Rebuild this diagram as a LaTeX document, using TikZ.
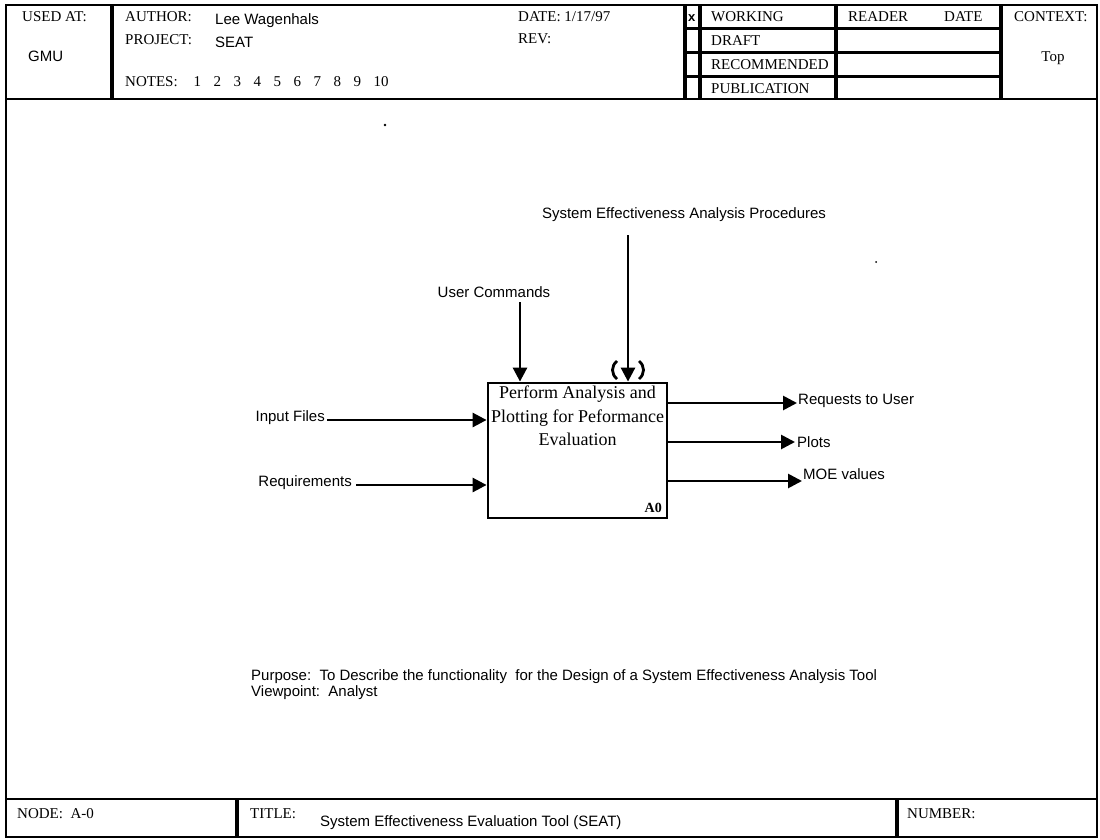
\documentclass[tikz,border=0pt]{standalone}
\usepackage{fontspec}
\setmainfont{Liberation Serif}
\newfontfamily\arial{Liberation Sans}
\usetikzlibrary{arrows.meta}
\begin{document}
\begin{tikzpicture}[x=1pt,y=-1pt,
  frame/.style={line width=2pt},
  divider/.style={line width=3.5pt},
  rowline/.style={line width=3pt},
  hdr/.style={font=\fontsize{15}{18}\selectfont, inner sep=0pt, anchor=base west},
  lab/.style={font=\arial\fontsize{15}{18}\selectfont, inner sep=0pt},
  arr/.style={line width=2.7pt, -{Triangle[length=14pt,width=14pt]}},
  funcbox/.style={draw, line width=2.8pt, minimum width=179pt, minimum height=135pt, inner sep=0pt}
]
\useasboundingbox (0,0) rectangle (1100,840);
% outer frame
\draw[frame] (6,5) rectangle (1097,837);
\draw[line width=2.6pt] (6,99) -- (1097,99);
\draw[frame] (6,799) -- (1097,799);
% header dividers
\draw[divider] (112,5) -- (112,99);
\draw[divider] (685,5) -- (685,99);
\draw[divider] (700,5) -- (700,99);
\draw[divider] (836,5) -- (836,99);
\draw[divider] (1001,5) -- (1001,99);
\foreach \yy in {29,53,77} \draw[rowline] (685,\yy) -- (1001,\yy);
% footer dividers
\draw[divider] (237,799) -- (237,837);
\draw[divider] (897,799) -- (897,837);
% header texts
\node[hdr] (usedat) at (22,22) {USED AT:};
\node[lab, anchor=base west] (gmu) at (28,62) {GMU};
\node[hdr] (author) at (125,22) {AUTHOR:};
\node[lab, anchor=base west] (authorv) at (215,25) {Lee Wagenhals};
\node[hdr] (project) at (125,45) {PROJECT:};
\node[lab, anchor=base west] (projectv) at (215,48) {SEAT};
\node[hdr] (notes) at (125,87) {NOTES:\hspace{16pt}1\hspace{12.5pt}2\hspace{12.5pt}3\hspace{12.5pt}4\hspace{12.5pt}5\hspace{12.5pt}6\hspace{12.5pt}7\hspace{12.5pt}8\hspace{12.5pt}9\hspace{12.5pt}10};
\node[hdr] (date) at (518,22) {DATE:\ 1/17/97};
\node[hdr] (rev) at (518,44) {REV:};
\node[lab, anchor=base west, font=\arial\bfseries\fontsize{13}{15}\selectfont] (chk) at (688,22) {x};
\node[hdr] (working) at (711,22) {WORKING};
\node[hdr] (draft) at (711,46) {DRAFT};
\node[hdr] (recommended) at (711,70) {RECOMMENDED};
\node[hdr] (publication) at (711,94) {PUBLICATION};
\node[hdr] (reader) at (848,22) {READER};
\node[hdr] (rdate) at (944,22) {DATE};
\node[hdr] (context) at (1014,22) {CONTEXT:};
\node[hdr, anchor=base] (top) at (1053,62) {Top};
% footer texts
\node[hdr] (node) at (17,818) {NODE:\ \ A-0};
\node[hdr] (title) at (250,818) {TITLE:};
\node[lab, anchor=base west] (titlev) at (320,826) {System Effectiveness Evaluation Tool (SEAT)};
\node[hdr] (number) at (907,818) {NUMBER:};
% scan dots
\fill (385,125) circle (1.4pt);
\fill (876,262) circle (1pt);
% function box
\node[funcbox] (box) at (577.5,450.5) {};
\node[font=\fontsize{18}{23.5}\selectfont, align=center, anchor=north, inner sep=0pt] (boxtext) at (577.5,386) {Perform Analysis and\\Plotting for Peformance\\Evaluation};
\node[font=\bfseries\fontsize{14}{16}\selectfont, anchor=base east, inner sep=0pt] (a0) at (662,512) {A0};
% controls
\node[lab] (seap) at (684,215) {System Effectiveness Analysis Procedures};
\coordinate (seapstart) at (628,235);
\draw[arr] (seapstart) -- (seapstart |- box.north);
\draw[line width=2.8pt] (617,361) .. controls (611,366) and (611,374) .. (617,379);
\draw[line width=2.8pt] (639,361) .. controls (645,366) and (645,374) .. (639,379);
\node[lab] (uc) at (494,292) {User Commands};
\coordinate (ucstart) at (520,302);
\draw[arr] (ucstart) -- (ucstart |- box.north);
% inputs
\node[lab, anchor=east] (inf) at (325,418) {Input Files};
\coordinate (infstart) at (327,420);
\draw[arr] (infstart) -- (infstart -| box.west);
\node[lab, anchor=east] (req) at (352,483) {Requirements};
\coordinate (reqstart) at (356,485);
\draw[arr] (reqstart) -- (reqstart -| box.west);
% outputs
\node[lab, anchor=west] (rtu) at (798,401) {Requests to User};
\coordinate (rtuend) at (797,403);
\draw[arr] (rtuend -| box.east) -- (rtuend);
\node[lab, anchor=west] (plots) at (797,442) {Plots};
\coordinate (plotsend) at (795,442);
\draw[arr] (plotsend -| box.east) -- (plotsend);
\node[lab, anchor=west] (moe) at (803,474) {MOE values};
\coordinate (moeend) at (802,481);
\draw[arr] (moeend -| box.east) -- (moeend);
% purpose
\node[lab, anchor=base west] (purpose) at (251,680) {Purpose:\ \ To Describe the functionality\ \ for the Design of a System Effectiveness Analysis Tool};
\node[lab, anchor=base west] (viewpoint) at (251,696) {Viewpoint:\ \ Analyst};
\end{tikzpicture}
\end{document}
